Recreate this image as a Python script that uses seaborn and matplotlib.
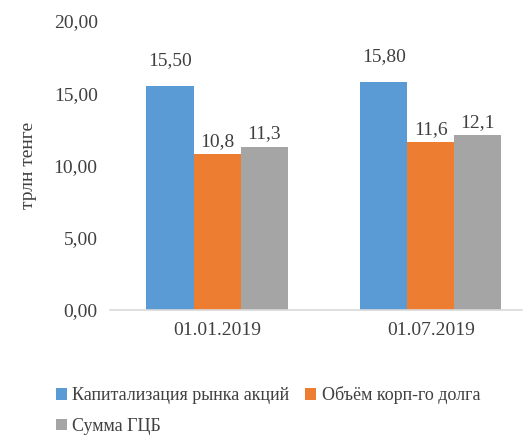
import os
import matplotlib
matplotlib.use("Agg")
import matplotlib.pyplot as plt
import seaborn as sns
import pandas as pd
from matplotlib.patches import Patch
from matplotlib.font_manager import FontProperties

dates = ["01.01.2019", "01.07.2019"]
series = ["Капитализация рынка акций", "Объём корп-го долга", "Сумма ГЦБ"]
cap_values = [15.50, 15.80]
corp_values = [10.8, 11.6]
gcb_values = [11.3, 12.1]
cap_labels = ["15,50", "15,80"]
corp_labels = ["10,8", "11,6"]
gcb_labels = ["11,3", "12,1"]
yticks = [0, 5, 10, 15, 20]
ytick_labels = ["0,00", "5,00", "10,00", "15,00", "20,00"]
colors = ["#5B9BD5", "#ED7D31", "#A5A5A5"]

sns.set_theme(style="white")
plt.rcParams["font.family"] = "serif"
plt.rcParams["font.serif"] = ["Liberation Serif", "DejaVu Serif"]

path = "/usr/share/fonts/truetype/liberation/LiberationSerif-Regular.ttf"


def fp(size):
    if os.path.exists(path):
        return FontProperties(fname=path, size=size)
    return FontProperties(family="Liberation Serif", size=size)


df = pd.DataFrame({
    "date": dates * 3,
    "series": [series[0]] * 2 + [series[1]] * 2 + [series[2]] * 2,
    "value": cap_values + corp_values + gcb_values,
})

fig = plt.figure(figsize=(5.27, 4.36), dpi=100)
ax = fig.add_axes([0.209, 0.289, 0.781, 0.663])
sns.barplot(data=df, x="date", y="value", hue="series", palette=colors,
            width=0.66, ax=ax, legend=False, saturation=1, edgecolor="none")

textc = "#404040"
pads = [12, 3, 3]
for cont, labs, p in zip(ax.containers, [cap_labels, corp_labels, gcb_labels], pads):
    ax.bar_label(cont, labels=labs, padding=p, color=textc, fontproperties=fp(14))

ax.set_ylim(0, 20)
ax.set_xlim(-0.5, 1.425)
ax.set_yticks(yticks)
ax.set_yticklabels(ytick_labels, color=textc, fontproperties=fp(14))
ax.set_xticks([0, 1])
ax.set_xticklabels(dates, color=textc, fontproperties=fp(14))
ax.set_xlabel("")
ax.set_ylabel("трлн тенге", color=textc, labelpad=12, fontproperties=fp(14))
ax.tick_params(axis="both", length=0, pad=9)
for s in ["top", "right", "left"]:
    ax.spines[s].set_visible(False)
ax.spines["bottom"].set_color("#D9D9D9")
ax.spines["bottom"].set_linewidth(1.2)

handles = [Patch(facecolor=c, edgecolor="none") for c in colors]
order = [0, 2, 1]
leg = fig.legend([handles[i] for i in order], [series[i] for i in order],
                 ncol=2, loc="lower left", bbox_to_anchor=(0.075, -0.035),
                 frameon=False, prop=fp(13),
                 handlelength=0.6, handleheight=0.6,
                 handletextpad=0.3, columnspacing=0.9, labelspacing=0.75)
for t in leg.get_texts():
    t.set_color(textc)

fig.savefig("out.png", dpi=100)
